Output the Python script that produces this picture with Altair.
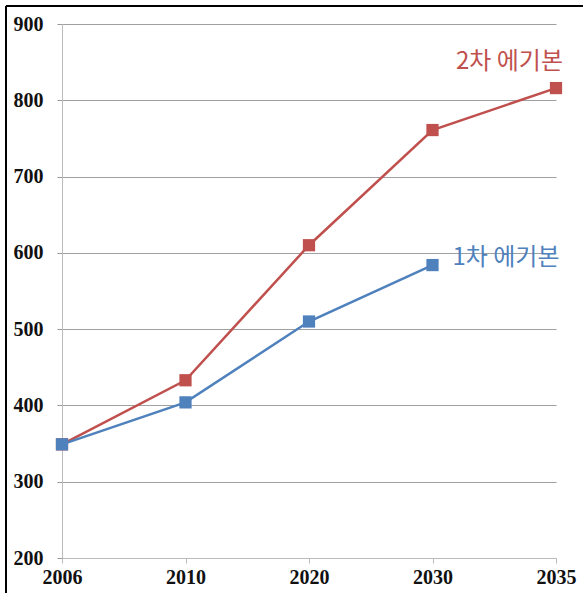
import altair as alt
import pandas as pd

years = ["2006", "2010", "2020", "2030", "2035"]
plan2 = [349, 433, 610, 761, 816]
plan1 = [349, 404, 510, 584, None]
series_names = ["2차 에기본", "1차 에기본"]
colors = ["#C0504D", "#4F81BD"]
label_pos_year = ["2035", "2030"]
label_pos_value = [850, 593]

rows = []
for y, v in zip(years, plan2):
    rows.append({"year": y, "value": v, "series": series_names[0]})
for y, v in zip(years, plan1):
    if v is not None:
        rows.append({"year": y, "value": v, "series": series_names[1]})
df = pd.DataFrame(rows)

lab = pd.DataFrame({"year": label_pos_year, "value": label_pos_value, "series": series_names})

x = alt.X("year:O", sort=years,
          scale=alt.Scale(type="point", padding=0),
          axis=alt.Axis(title=None, labelAngle=0, labelFont="Liberation Serif",
                        labelFontWeight="bold", labelFontSize=20, labelColor="#111",
                        domainColor="#bbbbbb", tickColor="#bbbbbb", tickSize=5,
                        labelPadding=4, grid=False))
y = alt.Y("value:Q",
          scale=alt.Scale(domain=[200, 900], nice=False, zero=False),
          axis=alt.Axis(title=None, values=[200, 300, 400, 500, 600, 700, 800, 900],
                        labelFont="Liberation Serif", labelFontWeight="bold",
                        labelFontSize=20, labelColor="#111", labelPadding=14,
                        domainColor="#bbbbbb", tickColor="#999999", tickSize=5,
                        gridColor="#a0a0a0", gridWidth=1))
color = alt.Color("series:N", scale=alt.Scale(domain=series_names, range=colors), legend=None)

lines = alt.Chart(df).mark_line(strokeWidth=2.5).encode(x=x, y=y, color=color)
points = alt.Chart(df).mark_point(shape="square", filled=True, size=150, opacity=1).encode(
    x=x, y=y, color=color)

t2 = alt.Chart(lab[lab.series == series_names[0]]).mark_text(
    align="right", baseline="middle", dx=7, font="Noto Sans CJK KR", fontSize=24
).encode(x=x, y=y, text="series:N", color=color)
t1 = alt.Chart(lab[lab.series == series_names[1]]).mark_text(
    align="left", baseline="middle", dx=20, font="Noto Sans CJK KR", fontSize=24
).encode(x=x, y=y, text="series:N", color=color)

border_top = alt.Chart(pd.DataFrame({"a": [0]})).mark_rule(color="black", strokeWidth=2).encode(
    x=alt.value(-56), x2=alt.value(530), y=alt.value(-18))
border_left = alt.Chart(pd.DataFrame({"a": [0]})).mark_rule(color="black", strokeWidth=2).encode(
    x=alt.value(-56), y=alt.value(-18), y2=alt.value(580))

chart = alt.layer(lines, points, t2, t1, border_top, border_left).properties(
    width=494, height=534,
    padding={"left": 62, "top": 24, "right": 27, "bottom": 35},
    autosize=alt.AutoSizeParams(type="none"),
    background="white",
).configure_view(stroke=None)

chart.save("out.html", embed_options={"renderer": "svg", "actions": False})
